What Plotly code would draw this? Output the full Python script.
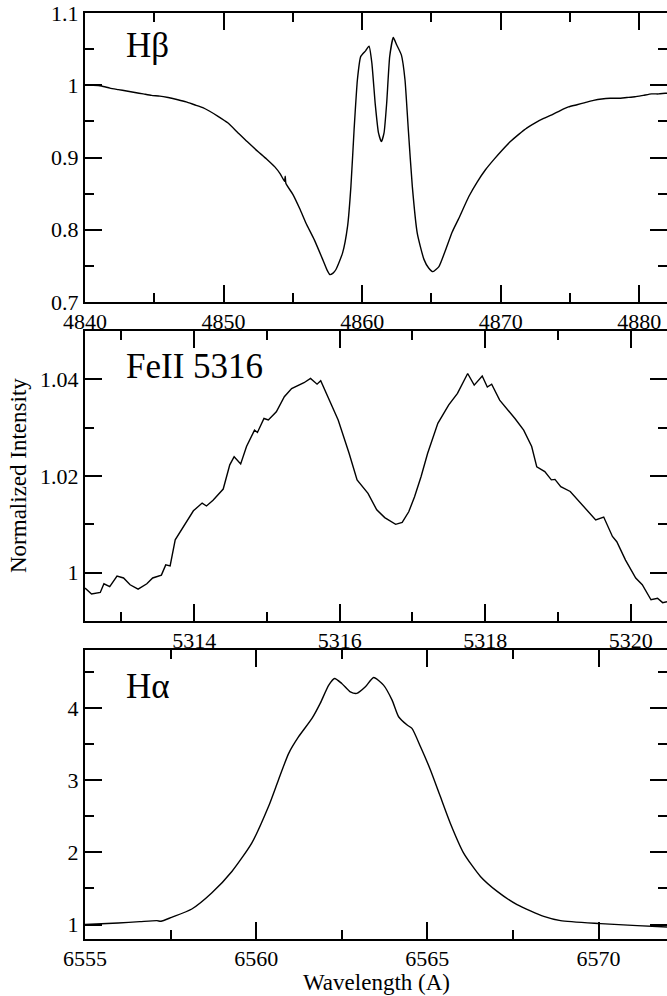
import plotly.graph_objects as go

# ---------------- data ----------------
hb_wave = [4840.0, 4840.6, 4841.2, 4841.8, 4842.4, 4843.0, 4843.6, 4844.2, 4844.8, 4845.4,
           4846.0, 4846.7, 4847.3, 4847.9, 4848.5, 4849.0, 4849.6, 4850.3, 4851.0, 4851.7,
           4852.5, 4853.1, 4853.7, 4854.1, 4854.4, 4854.45, 4854.5, 4855.0, 4855.5, 4855.95,
           4856.55, 4857.15, 4857.45, 4857.67, 4857.9, 4858.11, 4858.59, 4858.95, 4859.19, 4859.42,
           4859.66, 4859.90, 4860.26, 4860.50, 4860.70, 4860.94, 4861.18, 4861.39, 4861.58, 4861.77,
           4861.99, 4862.25, 4862.49, 4862.83, 4863.09, 4863.33, 4863.62, 4863.98, 4864.46, 4864.8,
           4865.11, 4865.54, 4866.02, 4866.50, 4866.98, 4867.70, 4868.30, 4868.90, 4869.50, 4870.10,
           4870.70, 4871.30, 4871.90, 4872.49, 4873.10, 4873.69, 4874.30, 4874.89, 4875.50, 4876.09,
           4876.70, 4877.29, 4877.90, 4878.49, 4879.10, 4879.69, 4880.30, 4880.89, 4881.40, 4881.87,
           4882.0]
hb_flux = [1.000, 1.000, 0.999, 0.996, 0.994, 0.992, 0.990, 0.988, 0.986, 0.985,
           0.983, 0.980, 0.977, 0.973, 0.969, 0.964, 0.957, 0.948, 0.935, 0.922,
           0.908, 0.898, 0.887, 0.877, 0.867, 0.874, 0.864, 0.849, 0.829, 0.809,
           0.786, 0.759, 0.745, 0.738, 0.740, 0.745, 0.768, 0.805, 0.860, 0.939,
           1.008, 1.040, 1.048, 1.054, 1.031, 0.975, 0.934, 0.922, 0.934, 0.975,
           1.040, 1.066, 1.056, 1.042, 1.008, 0.939, 0.860, 0.795, 0.759, 0.747,
           0.742, 0.749, 0.772, 0.797, 0.816, 0.846, 0.866, 0.883, 0.897, 0.910,
           0.922, 0.932, 0.941, 0.948, 0.954, 0.959, 0.965, 0.970, 0.973, 0.976,
           0.979, 0.981, 0.982, 0.982, 0.983, 0.984, 0.986, 0.988, 0.988, 0.989,
           0.989]

fe_wave = [5312.50, 5312.59, 5312.71, 5312.76, 5312.84, 5312.94, 5313.03, 5313.12, 5313.23, 5313.35,
           5313.43, 5313.55, 5313.61, 5313.67, 5313.74, 5313.85, 5313.99, 5314.11, 5314.17, 5314.26,
           5314.40, 5314.49, 5314.55, 5314.64, 5314.72, 5314.83, 5314.87, 5314.96, 5315.02, 5315.13,
           5315.24, 5315.34, 5315.43, 5315.51, 5315.60, 5315.69, 5315.74, 5315.84, 5315.98, 5316.13,
           5316.24, 5316.39, 5316.51, 5316.62, 5316.77, 5316.86, 5316.95, 5317.03, 5317.12, 5317.21,
           5317.35, 5317.50, 5317.62, 5317.76, 5317.85, 5317.96, 5318.03, 5318.09, 5318.20, 5318.41,
           5318.53, 5318.64, 5318.71, 5318.82, 5318.91, 5318.96, 5319.04, 5319.17, 5319.28, 5319.40,
           5319.52, 5319.63, 5319.75, 5319.81, 5319.93, 5320.07, 5320.16, 5320.28, 5320.37, 5320.44,
           5320.50]
fe_flux = [0.9968, 0.9956, 0.9959, 0.9977, 0.9971, 0.9993, 0.9989, 0.9975, 0.9966, 0.9977,
           0.9989, 0.9995, 1.0016, 1.0014, 1.0068, 1.0095, 1.0128, 1.0144, 1.0138, 1.0150,
           1.0173, 1.0223, 1.0240, 1.0225, 1.0261, 1.0295, 1.0290, 1.0319, 1.0316, 1.0333,
           1.0364, 1.0381, 1.0388, 1.0393, 1.0402, 1.0390, 1.0397, 1.0364, 1.0316, 1.0247,
           1.0192, 1.0164, 1.0130, 1.0114, 1.0100, 1.0104, 1.0126, 1.0157, 1.0199, 1.0247,
           1.0309, 1.0347, 1.0371, 1.0412, 1.0388, 1.0407, 1.0384, 1.0390, 1.0357, 1.0319,
           1.0295, 1.0261, 1.0219, 1.0209, 1.0192, 1.0193, 1.0178, 1.0168, 1.0150, 1.0130,
           1.0109, 1.0115, 1.0075, 1.0064, 1.0026, 0.9989, 0.9975, 0.9944, 0.9947, 0.9938,
           0.9940]

ha_wave = [6555.00, 6555.97, 6556.60, 6557.10, 6557.22, 6557.53, 6558.12, 6558.70, 6559.29, 6559.87,
           6560.36, 6560.65, 6560.95, 6561.24, 6561.63, 6561.87, 6562.12, 6562.29, 6562.50, 6562.75,
           6562.94, 6563.19, 6563.43, 6563.72, 6563.97, 6564.16, 6564.41, 6564.55, 6564.80, 6565.09,
           6565.38, 6565.67, 6566.06, 6566.55, 6567.04, 6567.62, 6568.40, 6568.89, 6570.06, 6571.13,
           6572.00]
ha_flux = [1.000, 1.022, 1.040, 1.054, 1.045, 1.100, 1.215, 1.436, 1.735, 2.127,
           2.633, 3.001, 3.370, 3.600, 3.853, 4.061, 4.314, 4.406, 4.337, 4.221,
           4.199, 4.290, 4.420, 4.314, 4.106, 3.876, 3.761, 3.715, 3.461, 3.140,
           2.771, 2.403, 1.989, 1.666, 1.459, 1.275, 1.113, 1.054, 1.013, 0.985,
           0.967]

panel_labels = ["H\u03b2", "FeII 5316", "H\u03b1"]
x_title = "Wavelength (A)"
y_title = "Normalized Intensity"

hb_xticks = [4840, 4850, 4860, 4870, 4880]
hb_yticks = [0.7, 0.8, 0.9, 1.0, 1.1]
hb_yticktext = ["0.7", "0.8", "0.9", "1", "1.1"]
fe_xticks = [5314, 5316, 5318, 5320]
fe_yticks = [1.00, 1.02, 1.04]
fe_yticktext = ["1", "1.02", "1.04"]
ha_xticks = [6555, 6560, 6565, 6570]
ha_yticks = [1, 2, 3, 4]

# ---------------- figure ----------------
W, H = 667, 996
FONT = "Liberation Serif, Times New Roman, serif"


def ydom(top_px, bot_px):
    return [1 - bot_px / H, 1 - top_px / H]


fig = go.Figure()
fig.add_trace(go.Scatter(x=hb_wave, y=hb_flux, mode="lines",
                         line=dict(color="black", width=1.4, shape="spline", smoothing=0.5),
                         xaxis="x", yaxis="y", showlegend=False, hoverinfo="skip"))
fig.add_trace(go.Scatter(x=fe_wave, y=fe_flux, mode="lines", line=dict(color="black", width=1.4),
                         xaxis="x2", yaxis="y2", showlegend=False, hoverinfo="skip"))
fig.add_trace(go.Scatter(x=ha_wave, y=ha_flux, mode="lines",
                         line=dict(color="black", width=1.4, shape="spline", smoothing=0.6),
                         xaxis="x3", yaxis="y3", showlegend=False, hoverinfo="skip"))


def minor(dt, t0):
    return dict(ticks="inside", ticklen=9, tickwidth=1.5, tickcolor="black", dtick=dt, tick0=t0)


def ax(**kw):
    d = dict(showline=True, linecolor="black", linewidth=2, mirror="allticks",
             ticks="inside", ticklen=17, tickwidth=1.5, tickcolor="black",
             showgrid=False, zeroline=False, automargin=False,
             tickfont=dict(family=FONT, size=22, color="black"))
    d.update(kw)
    return d


def xax(**kw):
    return ax(ticklabelstandoff=-1, **kw)


def yax(**kw):
    return ax(**kw)


xdom = [85 / W, 1.0]
fig.update_layout(
    template="none",
    width=W, height=H,
    margin=dict(l=0, r=0, t=0, b=0, pad=0),
    paper_bgcolor="white", plot_bgcolor="white",
    font=dict(family=FONT, color="black"),
    showlegend=False,
    xaxis=xax(domain=xdom, anchor="y", range=[4840, 4882], tickmode="array", tickvals=hb_xticks,
              minor=minor(5, 4840)),
    yaxis=yax(domain=ydom(13, 302), anchor="x", range=[0.7, 1.1], tickmode="array",
              tickvals=hb_yticks, ticktext=hb_yticktext, minor=minor(0.05, 0.7)),
    xaxis2=xax(domain=xdom, anchor="y2", range=[5312.5, 5320.5], tickmode="array", tickvals=fe_xticks,
               minor=minor(1, 5312)),
    yaxis2=yax(domain=ydom(331, 621), anchor="x2", range=[0.99, 1.05], tickmode="array",
               tickvals=fe_yticks, ticktext=fe_yticktext, minor=minor(0.01, 0.99)),
    xaxis3=xax(domain=xdom, anchor="y3", range=[6555, 6572], tickmode="array", tickvals=ha_xticks,
               minor=minor(2.5, 6555)),
    yaxis3=yax(domain=ydom(650, 939), anchor="x3", range=[0.8, 4.8], tickmode="array", tickvals=ha_yticks,
               minor=minor(0.5, 0.5)),
)

label_y = [45, 367, 686]
for txt, yy in zip(panel_labels, label_y):
    fig.add_annotation(text=txt, x=124 / W, y=1 - yy / H, xref="paper", yref="paper",
                       xanchor="left", yanchor="middle", showarrow=False,
                       font=dict(family=FONT, size=35, color="black"))

fig.add_annotation(text=y_title, x=19 / W, y=1 - 476 / H, xref="paper", yref="paper",
                   textangle=-90, showarrow=False, xanchor="center", yanchor="middle",
                   font=dict(family=FONT, size=23, color="black"))
fig.add_annotation(text=x_title, x=376 / W, y=1 - 982 / H, xref="paper", yref="paper",
                   showarrow=False, xanchor="center", yanchor="middle",
                   font=dict(family=FONT, size=23, color="black"))

fig.write_html("out.html", config={"displayModeBar": False},
               post_script="document.body.style.margin='0';")
